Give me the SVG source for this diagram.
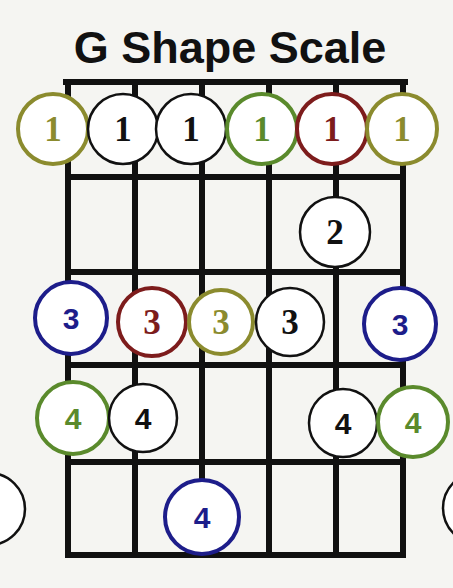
<svg xmlns="http://www.w3.org/2000/svg" width="453" height="588" viewBox="0 0 453 588">
<style>
.grid line{stroke:#111;stroke-width:6;stroke-linecap:square}
.dot circle{fill:#fff;stroke-width:4}
.dot text{font-weight:bold;text-anchor:middle}
.serif{font-family:"Liberation Serif","Times New Roman",serif;font-size:35px}
.sans{font-family:"Liberation Sans",Arial,sans-serif;font-size:30px}
.ol circle{stroke:#8b8b2e}.ol text{fill:#8b8b2e}
.gr circle{stroke:#5a8a2c}.gr text{fill:#5a8a2c}
.rd circle{stroke:#7d1c1c}.rd text{fill:#7d1c1c}
.bl circle{stroke:#1d1d8a}.bl text{fill:#1d1d8a}
.bk circle{stroke:#111;stroke-width:2.5}.bk text{fill:#111}
</style>
<rect width="453" height="588" fill="#f5f5f2"/>
<text x="230" y="63" font-family="Liberation Sans,Arial,sans-serif" font-weight="bold" font-size="45" text-anchor="middle" fill="#111">G Shape Scale</text>
<g id="fretboard" class="grid">
<line x1="66" y1="82" x2="405" y2="82"/>
<line x1="68" y1="177" x2="403" y2="177"/>
<line x1="68" y1="272" x2="403" y2="272"/>
<line x1="68" y1="365" x2="403" y2="365"/>
<line x1="68" y1="462" x2="403" y2="462"/>
<line x1="68" y1="555" x2="403" y2="555"/>
<line x1="68" y1="82" x2="68" y2="555"/>
<line x1="135" y1="82" x2="135" y2="555"/>
<line x1="202" y1="82" x2="202" y2="555"/>
<line x1="269" y1="82" x2="269" y2="555"/>
<line x1="336" y1="82" x2="336" y2="555"/>
<line x1="403" y1="82" x2="403" y2="555"/>
</g>
<g id="n1a" class="dot ol"><circle cx="53" cy="129" r="35"/><text class="serif" x="53" y="141">1</text></g>
<g id="n1b" class="dot bk"><circle cx="123" cy="129" r="35"/><text class="serif" x="123" y="141">1</text></g>
<g id="n1c" class="dot bk"><circle cx="191" cy="129" r="35"/><text class="serif" x="191" y="141">1</text></g>
<g id="n1d" class="dot gr"><circle cx="262" cy="129" r="35"/><text class="serif" x="262" y="141">1</text></g>
<g id="n1e" class="dot rd"><circle cx="332" cy="129" r="35"/><text class="serif" x="332" y="141">1</text></g>
<g id="n1f" class="dot ol"><circle cx="402" cy="129" r="35"/><text class="serif" x="402" y="141">1</text></g>
<g id="n2" class="dot bk"><circle cx="335" cy="232" r="35"/><text class="serif" x="335" y="244">2</text></g>
<g id="n3a" class="dot bl"><circle cx="71" cy="318" r="36"/><text class="sans" x="71" y="329">3</text></g>
<g id="n3b" class="dot rd"><circle cx="152" cy="322" r="34"/><text class="serif" x="152" y="334">3</text></g>
<g id="n3c" class="dot ol"><circle cx="221" cy="322" r="32"/><text class="serif" x="221" y="334">3</text></g>
<g id="n3d" class="dot bk"><circle cx="290" cy="322" r="34"/><text class="serif" x="290" y="334">3</text></g>
<g id="n3e" class="dot bl"><circle cx="400" cy="324" r="36"/><text class="sans" x="400" y="335">3</text></g>
<g id="n4a" class="dot gr"><circle cx="73" cy="418" r="36"/><text class="sans" x="73" y="429">4</text></g>
<g id="n4b" class="dot bk"><circle cx="143" cy="418" r="34"/><text class="sans" x="143" y="429">4</text></g>
<g id="n4c" class="dot bk"><circle cx="343" cy="423" r="34"/><text class="sans" x="343" y="434">4</text></g>
<g id="n4d" class="dot gr"><circle cx="413" cy="422" r="35"/><text class="sans" x="413" y="433">4</text></g>
<g id="n4e" class="dot bl"><circle cx="202" cy="517" r="37"/><text class="sans" x="202" y="528">4</text></g>
<g id="edgeL" class="dot bk"><circle cx="-11" cy="509" r="36"/></g>
<g id="edgeR" class="dot bk"><circle cx="479" cy="508" r="36"/></g>
</svg>
